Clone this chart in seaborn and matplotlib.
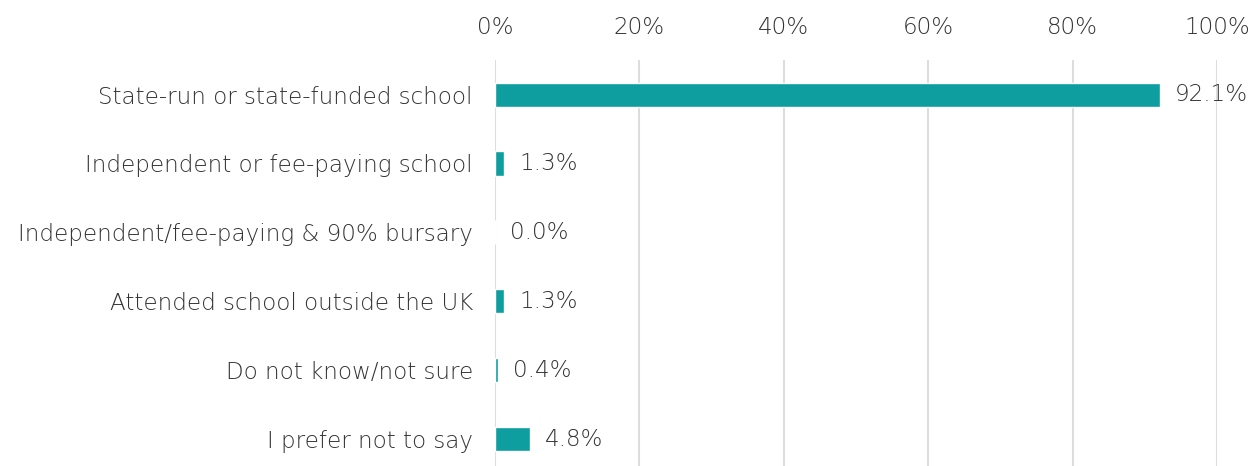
import matplotlib
matplotlib.use("Agg")
import matplotlib.pyplot as plt
import seaborn as sns
import pandas as pd

categories = [
    "State-run or state-funded school",
    "Independent or fee-paying school",
    "Independent/fee-paying & 90% bursary",
    "Attended school outside the UK",
    "Do not know/not sure",
    "I prefer not to say",
]
values = [92.1, 1.3, 0.0, 1.3, 0.4, 4.8]
xticks = [0, 20, 40, 60, 80, 100]

sns.set_theme(style="white")
plt.rcParams["font.family"] = ["DejaVu Sans"]
plt.rcParams["font.weight"] = 200

df = pd.DataFrame({"category": categories, "value": values})

fig = plt.figure(figsize=(12.5, 4.66), dpi=100)
ax = fig.add_axes([0.396, 0.0, 0.5776, 0.871])

sns.barplot(data=df, x="value", y="category", orient="h", color="#0E9EA0",
            saturation=1, width=0.35, ax=ax, zorder=3)

FS = 16.6
TC = "#333333"
ax.set_xlim(0, 100)
ax.set_ylim(5.39, -0.5)
ax.set_xticks(xticks)
ax.set_xticklabels([f"{t}%" for t in xticks])
ax.xaxis.tick_top()
ax.tick_params(axis="x", length=0, pad=15, labelsize=FS, labelcolor=TC)
ax.tick_params(axis="y", length=0, pad=16, labelsize=FS, labelcolor=TC)
ax.grid(axis="x", color="#dddddd", linewidth=1.5, zorder=0)
ax.set_xlabel("")
ax.set_ylabel("")
for s in ax.spines.values():
    s.set_visible(False)

for c in ax.containers:
    ax.bar_label(c, labels=[f"{v:.1f}%" for v in values], padding=11,
                 fontsize=FS, color=TC, fontweight=200)

fig.savefig("out.png", dpi=100)
